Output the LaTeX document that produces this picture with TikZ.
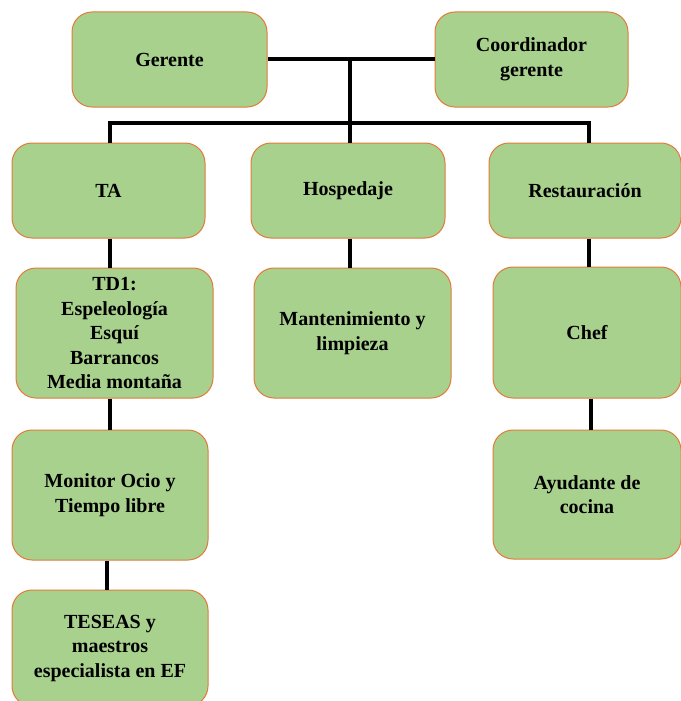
\documentclass[tikz,border=0pt]{standalone}
\usepackage{fontspec}
\setmainfont{Liberation Serif}
\usetikzlibrary{positioning}
\definecolor{boxgreen}{HTML}{A9D18E}
\definecolor{boxorange}{HTML}{E07B39}

\begin{document}
\begin{tikzpicture}[x=1pt, y=-1pt]
	\tikzset{BoxStyle/.style = {
			shape=rectangle,
			rounded corners=20pt,
			fill=boxgreen,
			draw=boxorange,
			line width=1pt,
			align=center,
			inner sep=0pt,
			font=\fontsize{20}{24.5}\selectfont\bfseries
	}}
	\tikzset{LinkStyle/.style = {
			draw=black,
			line width=4pt
	}}
	\useasboundingbox (0,0) rectangle (680,701);
	\node[BoxStyle, minimum width=195pt, minimum height=95pt] (gerente) at (169.5,59.5) {Gerente};
	\node[BoxStyle, minimum width=193pt, minimum height=95pt] (coord) at (531.5,59.5) {Coordinador\\gerente};
	\node[BoxStyle, minimum width=193pt, minimum height=95pt] (ta) at (108.5,190.5) {TA};
	\node[BoxStyle, minimum width=194pt, minimum height=95pt] (hosp) at (348,190.5) {Hospedaje};
	\node[BoxStyle, minimum width=192pt, minimum height=95pt] (rest) at (585,190.5) {Restauración};
	\node[BoxStyle, minimum width=197pt, minimum height=130pt] (td1) at (114.5,333) {TD1:\\Espeleología\\Esquí\\Barrancos\\Media montaña};
	\node[BoxStyle, minimum width=197pt, minimum height=130pt] (mant) at (352.5,333) {Mantenimiento y\\limpieza};
	\node[BoxStyle, minimum width=188pt, minimum height=131pt] (chef) at (587,332.5) {Chef};
	\node[BoxStyle, minimum width=196pt, minimum height=130pt] (monitor) at (110,495) {Monitor Ocio y\\Tiempo libre};
	\node[BoxStyle, minimum width=188pt, minimum height=129pt] (ayud) at (587,494.5) {Ayudante de\\cocina};
	\node[BoxStyle, minimum width=196pt, minimum height=116pt] (teseas) at (110,648) {TESEAS y\\maestros\\especialista en EF};

	\coordinate (jn) at (350,60);
	\coordinate (bus) at (350,122.5);
	\coordinate (taTop) at (110,143);
	\coordinate (restTop) at (589,143);

	\path [LinkStyle] (gerente) edge (coord);
	\path [LinkStyle] (jn) edge (hosp.north -| jn);
	\path [LinkStyle] (taTop) |- (bus) -| (restTop);
	\path [LinkStyle] (ta.south -| taTop) edge (td1.north -| taTop);
	\path [LinkStyle] (td1.south -| taTop) edge (monitor.north -| taTop);
	\path [LinkStyle] (monitor.south -| 107,0) edge (teseas.north -| 107,0);
	\path [LinkStyle] (hosp.south -| jn) edge (mant.north -| jn);
	\path [LinkStyle] (rest.south -| restTop) edge (chef.north -| restTop);
	\path [LinkStyle] (chef.south -| 591,0) edge (ayud.north -| 591,0);
\end{tikzpicture}
\end{document}
